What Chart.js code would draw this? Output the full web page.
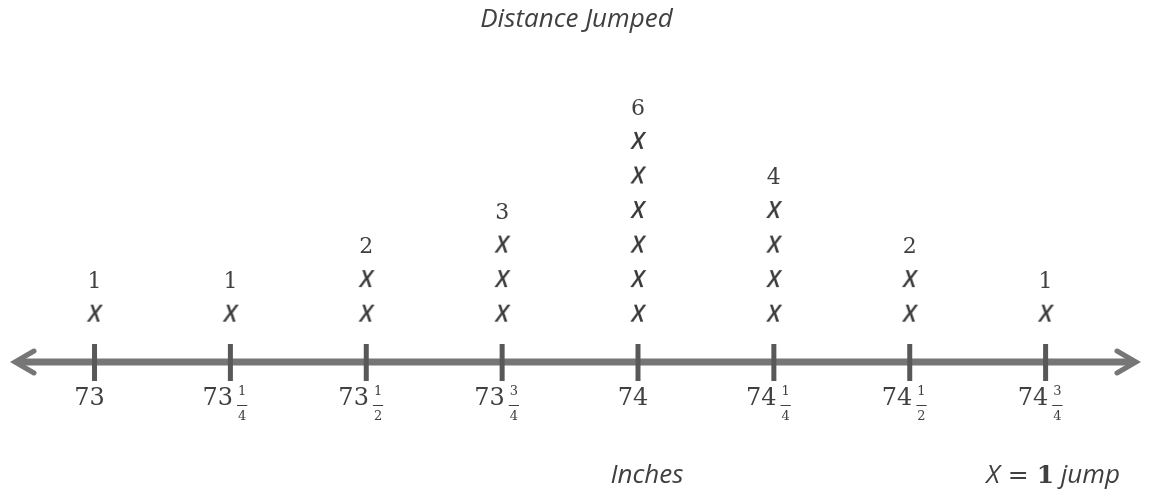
<!DOCTYPE html>
<html>
<head>
<meta charset="utf-8">
<title>Distance Jumped</title>
<script src="https://cdn.jsdelivr.net/npm/chart.js"></script>
<style>
    html, body { margin: 0; padding: 0; background: #fff; }
    #wrap { width: 1151px; height: 495px; }
</style>
</head>
<body>
<div id="wrap"><canvas id="plot"></canvas></div>
<script>
// Line plot data: jump lengths (inches) and how many jumps landed on each
const jumpValues = [73, 73.25, 73.5, 73.75, 74, 74.25, 74.5, 74.75];
const jumpCounts = [1, 1, 2, 3, 6, 4, 2, 1];

// tick labels as mixed numbers: whole part, fraction numerator, denominator
const tickWhole = ['73', '73', '73', '73', '74', '74', '74', '74'];
const tickNum = ['', '1', '1', '3', '', '1', '1', '3'];
const tickDen = ['', '4', '2', '4', '', '4', '2', '4'];

const TEXT = '#404040';
const SERIF = '"DejaVu Serif", "Liberation Serif", serif';
const SANS = '"Open Sans", "Noto Sans", sans-serif';

// one point per jump, stacked in its column
const points = [];
jumpValues.forEach((v, i) => {
    for (let k = 1; k <= jumpCounts[i]; k++) {
        points.push({ x: v, y: k });
    }
});

// the "X" glyph used as the point style
function makeXMark() {
    const c = document.createElement('canvas');
    c.width = 26;
    c.height = 30;
    const g = c.getContext('2d');
    g.fillStyle = '#3a3a3a';
    g.font = 'italic 600 23px ' + SANS;
    g.textAlign = 'center';
    g.textBaseline = 'middle';
    g.fillText('X', 13, 15);
    return c;
}

// axis line with arrows, tick marks, mixed number labels and column counts
const linePlot = {
    id: 'linePlot',
    afterDatasetsDraw(chart) {
        const ctx = chart.ctx;
        const area = chart.chartArea;
        const xs = chart.scales.x;
        const ys = chart.scales.y;
        const axisY = area.bottom;

        ctx.save();

        // main axis
        ctx.strokeStyle = '#767676';
        ctx.lineWidth = 7;
        ctx.beginPath();
        ctx.moveTo(area.left + 4, axisY);
        ctx.lineTo(area.right - 4, axisY);
        ctx.stroke();

        // arrow heads
        ctx.lineWidth = 5;
        ctx.lineJoin = 'miter';
        ctx.lineCap = 'round';
        ctx.beginPath();
        ctx.moveTo(area.left + 21, axisY - 11);
        ctx.lineTo(area.left + 2, axisY);
        ctx.lineTo(area.left + 21, axisY + 11);
        ctx.moveTo(area.right - 21, axisY - 11);
        ctx.lineTo(area.right - 2, axisY);
        ctx.lineTo(area.right - 21, axisY + 11);
        ctx.stroke();

        jumpValues.forEach((v, i) => {
            const px = xs.getPixelForValue(v);

            // tick mark
            ctx.fillStyle = '#585858';
            ctx.fillRect(px - 2.5, axisY - 18, 5, 37);

            // label
            ctx.fillStyle = TEXT;
            ctx.textBaseline = 'middle';
            ctx.textAlign = 'left';
            ctx.font = '24px ' + SERIF;
            const ww = ctx.measureText(tickWhole[i]).width;
            let fw = 0;
            if (tickNum[i]) {
                ctx.font = '13px ' + SERIF;
                fw = Math.max(ctx.measureText(tickNum[i]).width, ctx.measureText(tickDen[i]).width) + 4;
            }
            const gap = fw ? 3 : 0;
            const start = px - 5 - (ww + gap + fw) / 2;
            ctx.font = '24px ' + SERIF;
            ctx.fillText(tickWhole[i], start, axisY + 37);
            if (fw) {
                const fx = start + ww + gap + fw / 2;
                ctx.font = '13px ' + SERIF;
                ctx.textAlign = 'center';
                ctx.fillText(tickNum[i], fx, axisY + 30);
                ctx.fillText(tickDen[i], fx, axisY + 55);
                ctx.fillRect(fx - fw / 2 + 1, axisY + 43, fw - 2, 1);
            }

            // count above the column
            ctx.font = '22px ' + SERIF;
            ctx.textAlign = 'center';
            ctx.fillText(String(jumpCounts[i]), px, ys.getPixelForValue(jumpCounts[i] + 1) + 2);
        });

        // axis label
        ctx.font = 'italic 26px ' + SANS;
        ctx.textAlign = 'center';
        ctx.fillText('Inches', xs.getPixelForValue(74) + 9, axisY + 114);

        // key: X = 1 jump
        const keyParts = [
            ['X', 'italic 26px ' + SANS],
            [' = ', '25px ' + SERIF],
            ['1', 'bold 25px ' + SERIF],
            [' jump', 'italic 26px ' + SANS]
        ];
        let total = 0;
        keyParts.forEach(p => { ctx.font = p[1]; total += ctx.measureText(p[0]).width; });
        let kx = area.right - 18 - total;
        ctx.textAlign = 'left';
        keyParts.forEach(p => {
            ctx.font = p[1];
            ctx.fillText(p[0], kx, axisY + 114);
            kx += ctx.measureText(p[0]).width;
        });

        ctx.restore();
    }
};

new Chart(document.getElementById('plot'), {
    type: 'scatter',
    data: {
        datasets: [{
            label: 'Jumps',
            data: points,
            pointStyle: makeXMark(),
            pointRadius: 12,
            pointHoverRadius: 12
        }]
    },
    options: {
        responsive: true,
        maintainAspectRatio: false,
        animation: false,
        events: [],
        layout: {
            padding: { left: 10, right: 8, top: 0, bottom: 133 }
        },
        scales: {
            x: { type: 'linear', min: 72.85, max: 74.92, display: false },
            y: { type: 'linear', min: -0.37, max: 7.7, display: false }
        },
        plugins: {
            legend: { display: false },
            tooltip: { enabled: false },
            title: {
                display: true,
                text: 'Distance Jumped',
                color: TEXT,
                font: { family: SANS, size: 26, style: 'italic', weight: 'normal', lineHeight: 1.2 },
                padding: { top: 4, bottom: 48 }
            }
        }
    },
    plugins: [linePlot]
});
</script>
</body>
</html>
